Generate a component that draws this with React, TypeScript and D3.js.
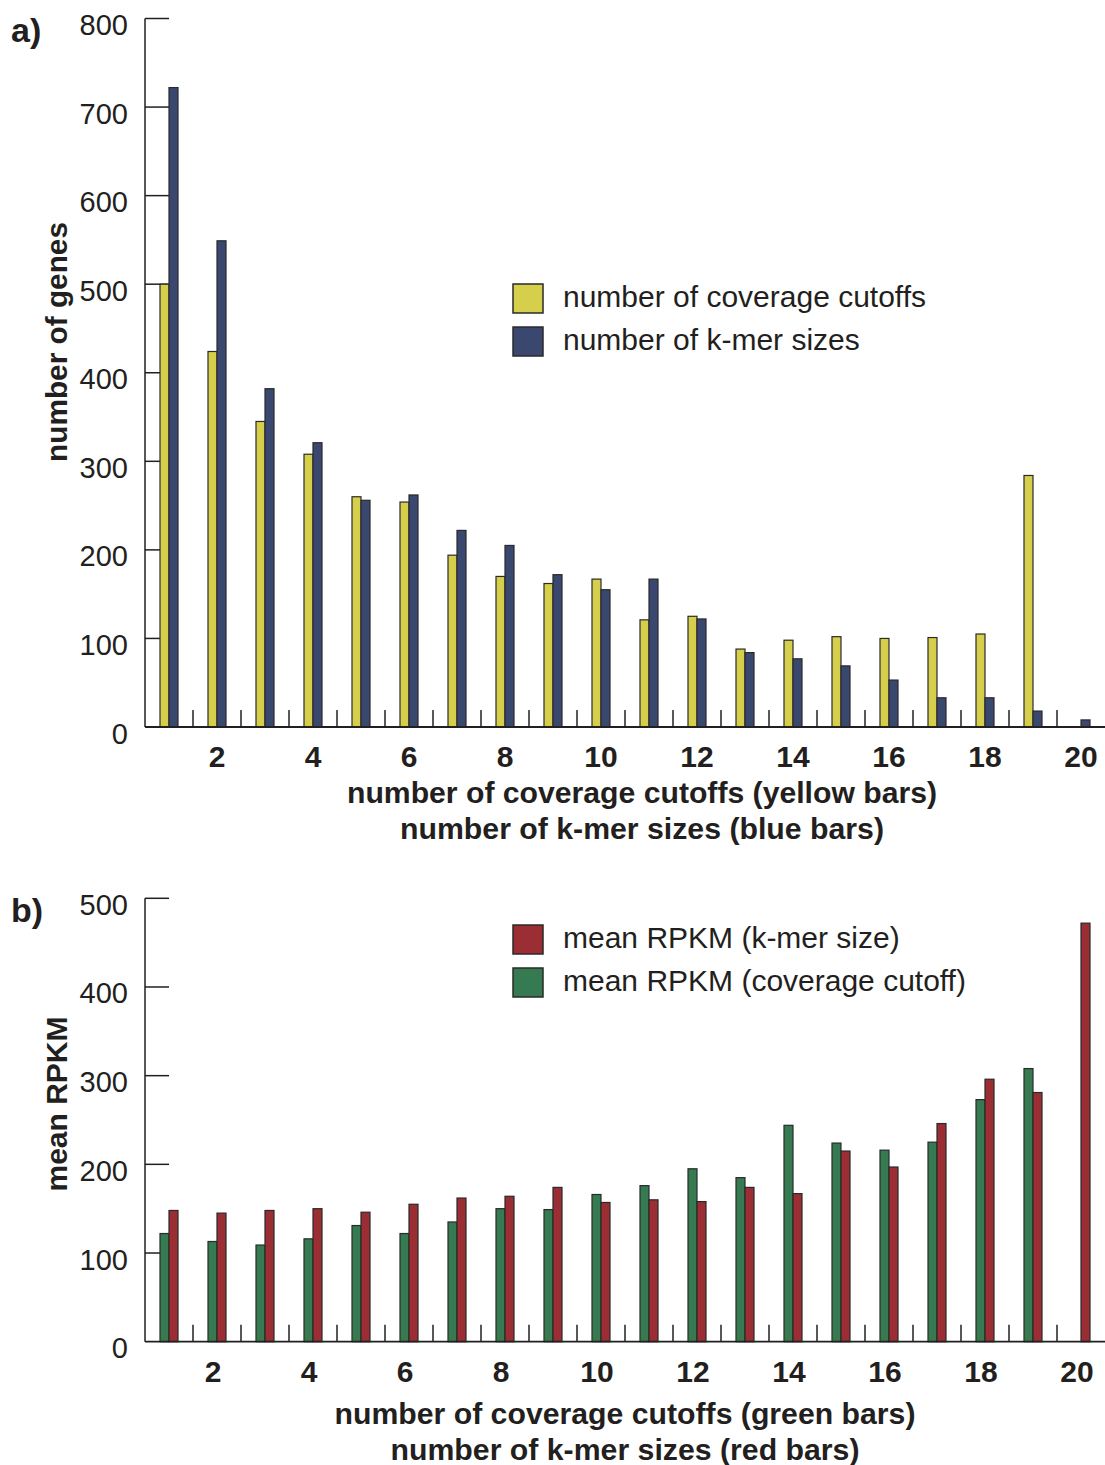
import React, { useEffect, useRef } from 'react';
import * as d3 from 'd3';

// x categories (1..20)
const groups = d3.range(1, 21);
const xTickLabels = [2, 4, 6, 8, 10, 12, 14, 16, 18, 20];

// panel a: number of genes
const coverageCutoffs = [500, 424, 345, 308, 260, 254, 194, 170, 162, 167, 121, 125, 88, 98, 102, 100, 101, 105, 284, 0];
const kmerSizes = [722, 549, 382, 321, 256, 262, 222, 205, 172, 155, 167, 122, 84, 77, 69, 53, 33, 33, 18, 8];
const yTicksA = [0, 100, 200, 300, 400, 500, 600, 700, 800];

// panel b: mean RPKM
const rpkmCoverage = [122, 113, 109, 116, 131, 122, 135, 150, 149, 166, 176, 195, 185, 244, 224, 216, 225, 273, 308, 0];
const rpkmKmer = [148, 145, 148, 150, 146, 155, 162, 164, 174, 157, 160, 158, 174, 167, 215, 197, 246, 296, 281, 472];
const yTicksB = [0, 100, 200, 300, 400, 500];

const FONT = '"Liberation Sans", Arial, Helvetica, sans-serif';
const NARROW = '"Liberation Sans Narrow", "Arial Narrow", "Liberation Sans", sans-serif';
const INK = '#231f20';

const App = () => {
  const ref = useRef<SVGSVGElement>(null);

  useEffect(() => {
    const svg = d3.select(ref.current);
    svg.selectAll('*').remove();

    const x = d3.scaleBand<number>().domain(groups).range([145, 1105]).paddingInner(0).paddingOuter(0);
    const barW = 9;

    const panel = (opts: any) => {
      const { y, yTicks, left, right, leftColor, rightColor, letter, letterY, yTitle, yTitleY, yTitleLen,
        titles, titleX, titleLens, titleGap, labelDx, labelY, legend, legendY } = opts;
      const g = svg.append('g');
      const [y0, y1] = y.range();

      // y ticks (inward) and labels
      g.selectAll('line.yt').data(yTicks.filter((t: number) => t > 0)).join('line')
        .attr('x1', 145).attr('x2', 169)
        .attr('y1', (d: number) => y(d)).attr('y2', (d: number) => y(d))
        .attr('stroke', INK).attr('stroke-width', 1.5);
      g.selectAll('text.yl').data(yTicks).join('text')
        .attr('x', 128).attr('y', (d: number) => y(d) + 16.5)
        .attr('text-anchor', 'end')
        .style('font-family', FONT).style('font-size', '29px').style('fill', INK)
        .text((d: number) => d);

      // x ticks between groups
      g.selectAll('line.xt').data(groups.slice(0, 19)).join('line')
        .attr('x1', (d: number) => x(d)! + x.bandwidth()).attr('x2', (d: number) => x(d)! + x.bandwidth())
        .attr('y1', y0).attr('y2', y0 - 17)
        .attr('stroke', INK).attr('stroke-width', 1.5);

      // bars
      g.selectAll('rect.l').data(left).join('rect')
        .filter((d: number) => d > 0)
        .attr('x', (d: number, i: number) => x(groups[i])! + x.bandwidth() / 2 - barW)
        .attr('y', (d: number) => y(d)).attr('width', barW).attr('height', (d: number) => y0 - y(d))
        .attr('fill', leftColor).attr('stroke', '#2a2a2a').attr('stroke-width', 1.2);
      g.selectAll('rect.r').data(right).join('rect')
        .filter((d: number) => d > 0)
        .attr('x', (d: number, i: number) => x(groups[i])! + x.bandwidth() / 2)
        .attr('y', (d: number) => y(d)).attr('width', barW).attr('height', (d: number) => y0 - y(d))
        .attr('fill', rightColor).attr('stroke', '#2a2a2a').attr('stroke-width', 1.2);

      // axes
      g.append('line').attr('x1', 145).attr('x2', 145).attr('y1', y1).attr('y2', y0)
        .attr('stroke', INK).attr('stroke-width', 1.5);
      g.append('line').attr('x1', 145).attr('x2', 1105).attr('y1', y0).attr('y2', y0)
        .attr('stroke', INK).attr('stroke-width', 1.8);

      // x labels
      g.selectAll('text.xl').data(xTickLabels).join('text')
        .attr('x', (d: number) => x(d)! + x.bandwidth() / 2 + labelDx)
        .attr('y', labelY)
        .attr('text-anchor', 'middle')
        .style('font-family', NARROW).style('font-weight', 'bold').style('font-size', '30px').style('fill', INK)
        .text((d: number) => d);

      titles.forEach((t: string, i: number) => {
        g.append('text').attr('x', titleX).attr('y', labelY + titleGap + i * 36)
          .attr('text-anchor', 'middle')
          .attr('textLength', titleLens[i]).attr('lengthAdjust', 'spacingAndGlyphs')
          .style('font-family', NARROW).style('font-weight', 'bold').style('font-size', '30px').style('fill', INK)
          .text(t);
      });

      // y title
      g.append('text')
        .attr('transform', `translate(67,${yTitleY}) rotate(-90)`)
        .attr('text-anchor', 'middle')
        .attr('textLength', yTitleLen).attr('lengthAdjust', 'spacingAndGlyphs')
        .style('font-family', NARROW).style('font-weight', 'bold').style('font-size', '30px').style('fill', INK)
        .text(yTitle);

      // panel letter
      g.append('text').attr('x', 11).attr('y', letterY)
        .style('font-family', FONT).style('font-weight', 'bold').style('font-size', '34px').style('fill', INK)
        .text(letter);

      // legend
      legend.forEach((l: any, i: number) => {
        const ly = legendY + i * 43;
        g.append('rect').attr('x', 513).attr('y', ly).attr('width', 30).attr('height', 29)
          .attr('fill', l.color).attr('stroke', '#2a2a2a').attr('stroke-width', 1.5);
        g.append('text').attr('x', 563).attr('y', ly + 23)
          .style('font-family', FONT).style('font-size', '30px').style('fill', INK)
          .text(l.label);
      });
    };

    panel({
      y: d3.scaleLinear().domain([0, 800]).range([727, 18.5]),
      yTicks: yTicksA,
      left: coverageCutoffs, right: kmerSizes,
      leftColor: '#d6cf4b', rightColor: '#3a4870',
      letter: 'a)', letterY: 42,
      yTitle: 'number of genes', yTitleY: 342, yTitleLen: 240,
      titles: ['number of coverage cutoffs (yellow bars)', 'number of k-mer sizes (blue bars)'],
      titleX: 642, titleLens: [590, 484], titleGap: 36,
      labelDx: 0, labelY: 767,
      legend: [{ color: '#d6cf4b', label: 'number of coverage cutoffs' }, { color: '#3a4870', label: 'number of k-mer sizes' }],
      legendY: 284,
    });

    panel({
      y: d3.scaleLinear().domain([0, 500]).range([1341.7, 898.3]),
      yTicks: yTicksB,
      left: rpkmCoverage, right: rpkmKmer,
      leftColor: '#367a51', rightColor: '#9a2e33',
      letter: 'b)', letterY: 922,
      yTitle: 'mean RPKM', yTitleY: 1104, yTitleLen: 175,
      titles: ['number of coverage cutoffs (green bars)', 'number of k-mer sizes (red bars)'],
      titleX: 625, titleLens: [581, 469], titleGap: 42,
      labelDx: -4, labelY: 1382,
      legend: [{ color: '#9a2e33', label: 'mean RPKM (k-mer size)' }, { color: '#367a51', label: 'mean RPKM (coverage cutoff)' }],
      legendY: 925,
    });
  }, []);

  return (
    <svg ref={ref} width={1105} height={1465}
      style={{ position: 'absolute', left: 0, top: 0, background: '#fff' }} />
  );
};

export default App;
